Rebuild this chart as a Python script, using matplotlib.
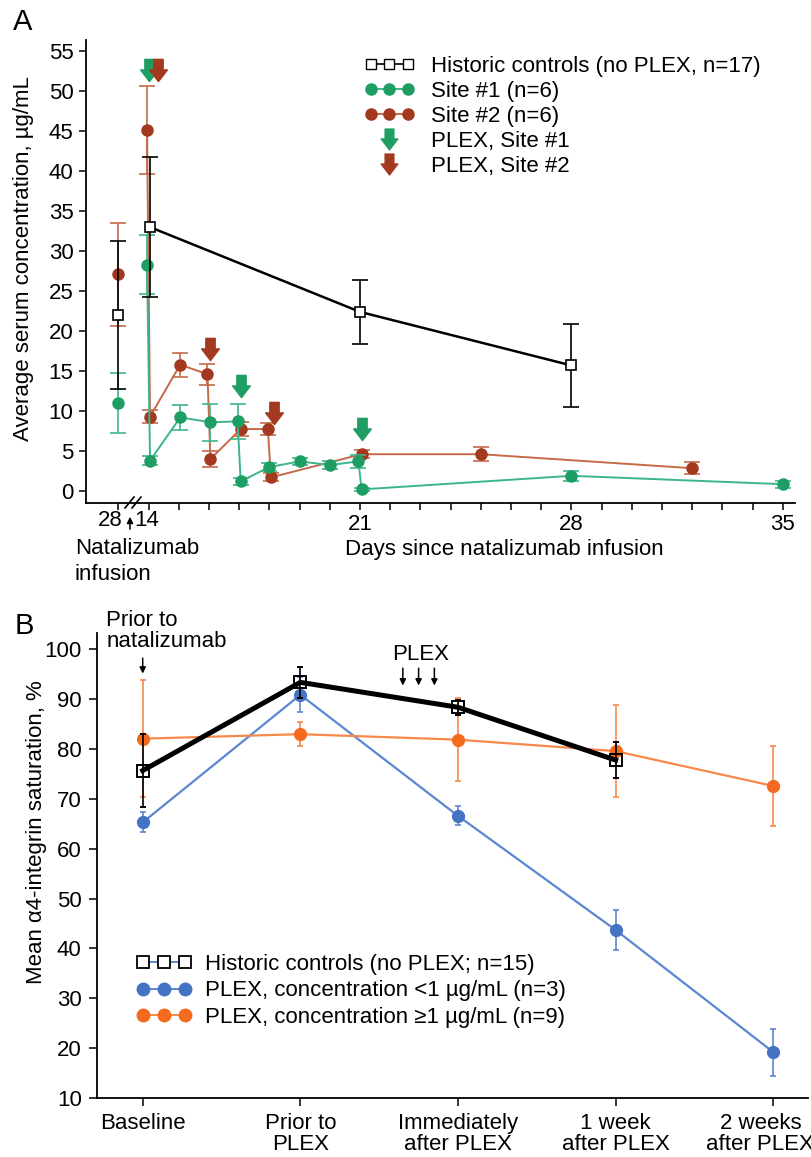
import numpy as np
import matplotlib
matplotlib.use('Agg')
import matplotlib.pyplot as plt
from matplotlib.path import Path
from matplotlib.lines import Line2D
from matplotlib.legend_handler import HandlerLine2D
import matplotlib.transforms as mtrans

plt.rcParams['font.family'] = ['Liberation Sans', 'DejaVu Sans']
plt.rcParams['font.size'] = 16

# ---------------- Panel A data ----------------
pre_pos = 13.0  # plotting position of the pre-infusion sample (day 28 of prior cycle)
hist_a_x = [14.05, 21, 28]
hist_a_y = [33.0, 22.4, 15.7]
hist_a_err = [8.8, 4.0, 5.2]
hist_a_pre = [22.0]
hist_a_pre_err = [9.3]

site1_x = [13.95, 14.05, 15.05, 16.05, 16.95, 17.05, 18.0, 19.0, 20.0, 20.95, 21.05, 28.0, 35.0]
site1_y = [28.3, 3.8, 9.2, 8.6, 8.7, 1.2, 3.0, 3.7, 3.25, 3.7, 0.2, 1.9, 0.85]
site1_err = [3.7, 0.6, 1.6, 2.3, 2.2, 0.4, 0.55, 0.4, 0.5, 0.8, 0.15, 0.65, 0.45]
site1_pre = [11.0]
site1_pre_err = [3.7]

site2_x = [13.95, 14.05, 15.05, 15.95, 16.05, 17.05, 17.95, 18.05, 21.05, 25.0, 32.0]
site2_y = [45.2, 9.3, 15.8, 14.6, 4.0, 7.75, 7.75, 1.7, 4.6, 4.6, 2.85]
site2_err = [5.5, 0.8, 1.5, 1.3, 1.0, 0.9, 0.8, 0.5, 0.5, 0.85, 0.75]
site2_pre = [27.1]
site2_pre_err = [6.45]

plex1_x = [14.0, 17.05, 21.05]
plex1_y = [52.6, 13.1, 7.75]
plex2_x = [14.3, 16.05, 18.15]
plex2_y = [52.6, 17.75, 9.75]

a_tick_days = [21, 28, 35]

# ---------------- Panel B data ----------------
b_cats = ['Baseline', 'Prior to\nPLEX', 'Immediately\nafter PLEX', '1 week\nafter PLEX', '2 weeks\nafter PLEX']
hist_b = [75.7, 93.4, 88.4, 77.8]
hist_b_err = [7.4, 3.1, 1.5, 3.6]
low_b = [65.3, 90.9, 66.6, 43.7, 19.2]
low_b_err = [2.0, 3.5, 1.9, 4.1, 4.7]
high_b = [82.1, 83.0, 81.9, 79.6, 72.6]
high_b_err = [11.8, 2.4, 8.3, 9.3, 8.0]
plex_b_x = [1.65, 1.75, 1.85]

# colours
G_MK = '#1f9e63'; G_LN = '#3db58c'
R_MK = '#a3391f'; R_LN = '#c46a48'
BL_MK = '#4573c4'; BL_LN = '#5b86d0'
OR_MK = '#f46a1f'; OR_LN = '#f7894a'

W, H = 812, 1157
fig = plt.figure(figsize=(W / 100, H / 100), dpi=100)

def fx(px):
    return px / W

def fy(py):
    return 1 - py / H

# block arrow marker
arrow_path = Path([(-0.42, 1.0), (0.42, 1.0), (0.42, 0.05), (0.8, 0.05), (0.0, -1.0),
                   (-0.8, 0.05), (-0.42, 0.05), (-0.42, 1.0)],
                  [Path.MOVETO] + [Path.LINETO] * 6 + [Path.CLOSEPOLY])

# ================= Panel A =================
axA = fig.add_axes([fx(86), fy(503), fx(795) - fx(86), fy(40) - fy(503)])
axA.set_xlim(11.93, 35.4)
axA.set_ylim(-1.5, 56.4)

ekw = dict(capsize=6, elinewidth=1.2, capthick=1.2)
MS_A = 8
# site 2
axA.errorbar(site2_x, site2_y, yerr=site2_err, color=R_LN, ecolor=R_LN, lw=1.4,
             marker='o', ms=MS_A, mfc=R_MK, mec=R_MK, zorder=3, **ekw)
axA.errorbar([pre_pos], site2_pre, yerr=site2_pre_err, color=R_LN, ecolor=R_LN, lw=1.4,
             marker='o', ms=MS_A, mfc=R_MK, mec=R_MK, zorder=3, **ekw)
# site 1
axA.errorbar(site1_x, site1_y, yerr=site1_err, color=G_LN, ecolor=G_LN, lw=1.4,
             marker='o', ms=MS_A, mfc=G_MK, mec=G_MK, zorder=4, **ekw)
axA.errorbar([pre_pos], site1_pre, yerr=site1_pre_err, color=G_LN, ecolor=G_LN, lw=1.4,
             marker='o', ms=MS_A, mfc=G_MK, mec=G_MK, zorder=4, **ekw)
# historic
axA.errorbar(hist_a_x, hist_a_y, yerr=hist_a_err, color='black', ecolor='black', lw=1.8,
             marker='s', ms=7, mfc='white', mec='black', mew=1.2, zorder=5, **ekw)
axA.errorbar([pre_pos], hist_a_pre, yerr=hist_a_pre_err, color='black', ecolor='black', lw=1.8,
             marker='s', ms=7, mfc='white', mec='black', mew=1.2, zorder=5, **ekw)
# PLEX arrows
axA.plot(plex1_x, plex1_y, ls='none', marker=arrow_path, ms=16, mfc=G_MK, mec=G_MK, zorder=6)
axA.plot(plex2_x, plex2_y, ls='none', marker=arrow_path, ms=16, mfc=R_MK, mec=R_MK, zorder=6)

axA.spines['top'].set_visible(False)
axA.spines['right'].set_visible(False)
for s in ['left', 'bottom']:
    axA.spines[s].set_linewidth(1.3)
axA.set_yticks(np.arange(0, 56, 5))
axA.tick_params(axis='both', direction='out', length=5, width=1.1, labelsize=16)
axA.tick_params(axis='y', pad=4)
axA.tick_params(axis='x', pad=3)
xt = [pre_pos] + list(range(14, 36))
axA.set_xticks(xt)
axA.set_xticklabels([str(int(d)) if d in a_tick_days else '' for d in xt])
axA.set_ylabel('Average serum concentration, µg/mL', fontsize=16)
axA.yaxis.set_label_coords(-0.074, 0.529)

# legend A
hA1 = Line2D([], [], color='black', lw=1.2, marker='s', ms=7, mfc='white', mec='black')
hA2 = Line2D([], [], color=G_LN, lw=1.4, marker='o', ms=8, mfc=G_MK, mec=G_MK)
hA3 = Line2D([], [], color=R_LN, lw=1.4, marker='o', ms=8, mfc=R_MK, mec=R_MK)
hA4 = Line2D([], [], ls='none', marker=arrow_path, ms=15, mfc=G_MK, mec=G_MK)
hA5 = Line2D([], [], ls='none', marker=arrow_path, ms=15, mfc=R_MK, mec=R_MK)
legA = axA.legend([hA1, hA2, hA3, hA4, hA5],
                  ['Historic controls (no PLEX, n=17)', 'Site #1 (n=6)', 'Site #2 (n=6)',
                   'PLEX, Site #1', 'PLEX, Site #2'],
                  loc='upper left', bbox_to_anchor=(0.392, 0.966), frameon=False,
                  numpoints=3, handlelength=2.3, handletextpad=0.7, labelspacing=0.18,
                  borderpad=0, borderaxespad=0, fontsize=16,
                  handler_map={hA4: HandlerLine2D(numpoints=1), hA5: HandlerLine2D(numpoints=1)})

# axis break marks
for x0 in (125, 132):
    fig.add_artist(Line2D([fx(x0), fx(x0 + 9)], [fy(508), fy(497)], color='black', lw=1.2))

fig.text(fx(110), fy(520), '28', ha='center', va='center', fontsize=16)
fig.text(fx(147), fy(520), '14', ha='center', va='center', fontsize=16)
fig.add_artist(matplotlib.patches.FancyArrowPatch((fx(130), fy(532)), (fx(130), fy(514)),
                                                  transform=fig.transFigure, arrowstyle='-|>',
                                                  mutation_scale=9, color='black', lw=1.1))
fig.text(fx(75), fy(549), 'Natalizumab', ha='left', va='center', fontsize=16)
fig.text(fx(75), fy(575), 'infusion', ha='left', va='center', fontsize=16)
fig.text(fx(504), fy(549), 'Days since natalizumab infusion', ha='center', va='center', fontsize=16)
fig.text(fx(23), fy(22), 'A', ha='center', va='center', fontsize=21)

# ================= Panel B =================
axB = fig.add_axes([fx(97), fy(1098), fx(808) - fx(97), fy(633) - fy(1098)])
xb = np.arange(len(b_cats))
axB.set_xlim(-0.29, 4.22)
axB.set_ylim(10, 103.3)

bkw = dict(capsize=2.5, elinewidth=1.2, capthick=1.2)
axB.errorbar(xb, low_b, yerr=low_b_err, color=BL_LN, ecolor=BL_LN, lw=1.6,
             marker='o', ms=8.5, mfc=BL_MK, mec=BL_MK, zorder=3, **bkw)
axB.errorbar(xb, high_b, yerr=high_b_err, color=OR_LN, ecolor=OR_LN, lw=1.6,
             marker='o', ms=8.5, mfc=OR_MK, mec=OR_MK, zorder=4, **bkw)
axB.errorbar(xb[:len(hist_b)], hist_b, yerr=hist_b_err, color='black', ecolor='black', lw=3.6,
             elinewidth=1.2, capthick=1.2, capsize=2.5,
             marker='s', ms=8.5, mfc='none', mec='black', mew=1.4, zorder=5)

axB.spines['top'].set_visible(False)
axB.spines['right'].set_visible(False)
for s in ['left', 'bottom']:
    axB.spines[s].set_linewidth(1.3)
axB.set_yticks(np.arange(10, 101, 10))
axB.set_xticks(xb)
axB.set_xticklabels(b_cats, linespacing=1.0)
axB.tick_params(axis='both', direction='out', length=6, width=1.1, labelsize=16)
axB.tick_params(axis='y', pad=5)
axB.tick_params(axis='x', pad=5)
# shift last category label left so it stays within the figure
last_lbl = axB.get_xticklabels()[-1]
last_lbl.set_transform(last_lbl.get_transform() +
                       mtrans.ScaledTranslation(-13 / 100, 0, fig.dpi_scale_trans))
axB.set_ylabel('Mean α4-integrin saturation, %', fontsize=16)
axB.yaxis.set_label_coords(-0.07, 0.572)

# annotations B
axB.annotate('', xy=(0, 94.6), xytext=(0, 98.8),
             arrowprops=dict(arrowstyle='-|>', color='black', lw=1.1, mutation_scale=9),
             annotation_clip=False)
axB.text(-0.23, 103.7, 'Prior to\nnatalizumab', ha='left', va='center', fontsize=16,
         linespacing=1.05, clip_on=False)
for xp in plex_b_x:
    axB.annotate('', xy=(xp, 92.2), xytext=(xp, 96.8),
                 arrowprops=dict(arrowstyle='-|>', color='black', lw=1.1, mutation_scale=9),
                 annotation_clip=False)
axB.text(1.76, 98.9, 'PLEX', ha='center', va='center', fontsize=16)

hB1 = Line2D([], [], color=BL_LN, lw=1.4, marker='s', ms=8.5, mfc='white', mec='black', mew=1.3)
hB2 = Line2D([], [], color=BL_LN, lw=1.4, marker='o', ms=9, mfc=BL_MK, mec=BL_MK)
hB3 = Line2D([], [], color=OR_LN, lw=1.4, marker='o', ms=9, mfc=OR_MK, mec=OR_MK)
axB.legend([hB1, hB2, hB3],
           ['Historic controls (no PLEX; n=15)', 'PLEX, concentration <1 µg/mL (n=3)',
            'PLEX, concentration ≥1 µg/mL (n=9)'],
           loc='upper left', bbox_to_anchor=(0.055, 0.31), frameon=False, numpoints=3,
           handlelength=2.5, handletextpad=0.6, labelspacing=0.25, borderpad=0,
           borderaxespad=0, fontsize=16)

fig.text(fx(24), fy(626), 'B', ha='center', va='center', fontsize=21)

fig.savefig('out.png', dpi=100)
